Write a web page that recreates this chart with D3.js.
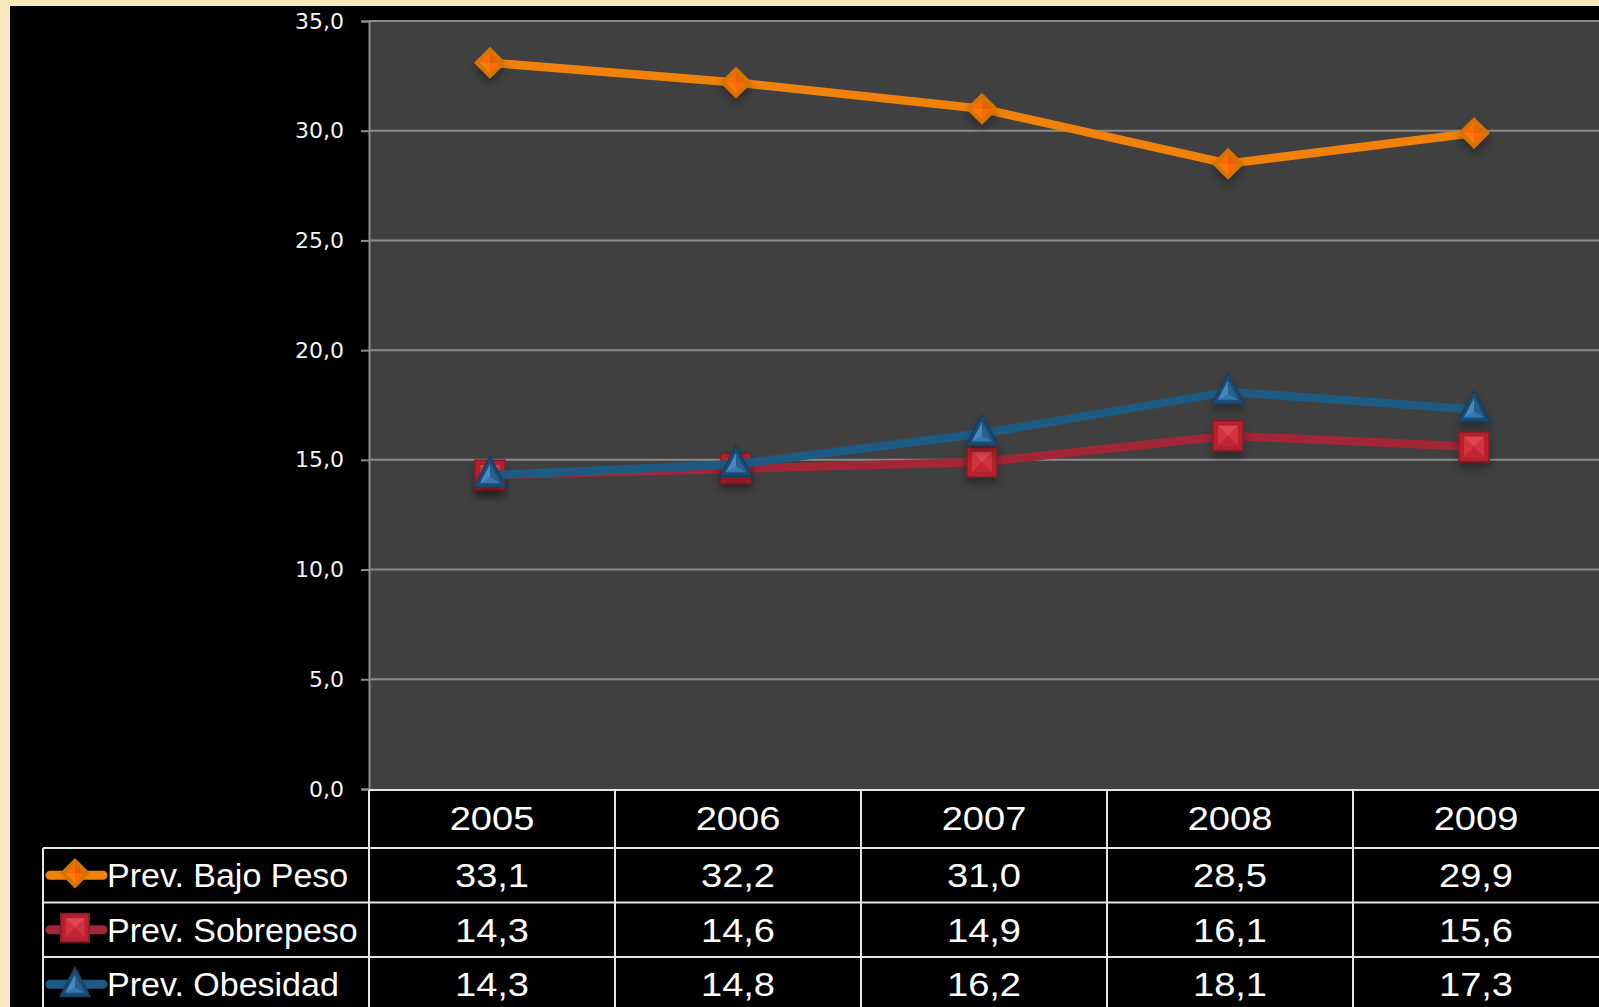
<!DOCTYPE html>
<html>
<head>
<meta charset="utf-8">
<script src="https://cdn.jsdelivr.net/npm/d3@7"></script>
<style>
  html, body { margin: 0; padding: 0; background: #f6e8bb; overflow: hidden; }
</style>
</head>
<body>
<div id="chart"></div>
<script>
// Data
const years = ['2005', '2006', '2007', '2008', '2009'];
const bajoPeso = [33.1, 32.2, 31.0, 28.5, 29.9];
const sobrepeso = [14.3, 14.6, 14.9, 16.1, 15.6];
const obesidad = [14.3, 14.8, 16.2, 18.1, 17.3];
const seriesNames = ['Prev. Bajo Peso', 'Prev. Sobrepeso', 'Prev. Obesidad'];
const yTicks = [0, 5, 10, 15, 20, 25, 30, 35];

const WIDTH = 1599;
const HEIGHT = 1007;

const series = [
    { name: seriesNames[0], values: bajoPeso, line: '#f08109', shape: 'diamond' },
    { name: seriesNames[1], values: sobrepeso, line: '#a22636', shape: 'square' },
    { name: seriesNames[2], values: obesidad, line: '#1d5b82', shape: 'triangle' }
];

const fmt = d3.formatLocale({ decimal: ',', thousands: '.', grouping: [3], currency: ['', ''] }).format('.1f');

const svg = d3.select('#chart')
    .append('svg')
    .attr('width', WIDTH)
    .attr('height', HEIGHT);

const defs = svg.append('defs');
const shadow = defs.append('filter').attr('id', 'shadow')
    .attr('x', '-50%').attr('y', '-50%').attr('width', '200%').attr('height', '200%');
shadow.append('feDropShadow')
    .attr('dx', 0).attr('dy', 6).attr('stdDeviation', 4)
    .attr('flood-color', '#000').attr('flood-opacity', 0.35);

// background panel
svg.append('rect')
    .attr('width', WIDTH).attr('height', HEIGHT)
    .attr('fill', '#f6e8bb');
svg.append('rect')
    .attr('x', 10).attr('y', 6)
    .attr('width', WIDTH - 10).attr('height', HEIGHT - 6)
    .attr('fill', '#000');

// Scales
const xScale = d3.scaleBand()
    .domain(years)
    .range([369, 1599])
    .padding(0);

const yScale = d3.scaleLinear()
    .domain([0, 35])
    .range([789, 21]);

// plot area
svg.append('rect')
    .attr('x', 369).attr('y', yScale(35))
    .attr('width', 1599 - 369).attr('height', yScale(0) - yScale(35))
    .attr('fill', '#404040');

// gridlines
svg.append('g')
    .selectAll('line')
    .data(yTicks.filter(d => d > 0))
    .enter()
    .append('line')
    .attr('x1', 369).attr('x2', 1599)
    .attr('y1', d => yScale(d)).attr('y2', d => yScale(d))
    .attr('stroke', '#8c8c8c')
    .attr('stroke-width', 2);

// y axis
const yAxis = d3.axisLeft(yScale)
    .tickValues(yTicks)
    .tickFormat(fmt)
    .tickSize(8)
    .tickPadding(17);

const yg = svg.append('g')
    .attr('transform', 'translate(369,0)')
    .call(yAxis);
yg.select('.domain').attr('stroke', '#8c8c8c').attr('stroke-width', 2);
yg.selectAll('.tick line').attr('stroke', '#8c8c8c').attr('stroke-width', 2);
yg.selectAll('.tick text')
    .attr('fill', '#f4f4f4')
    .style('font-family', '"DejaVu Sans", Verdana, sans-serif')
    .style('font-size', '22px');

// Markers
function drawMarker(g, shape) {
    if (shape === 'diamond') {
        g.append('path').attr('d', 'M0,-16L16,0L0,16L-16,0Z').attr('fill', '#d87300');
        g.append('path').attr('d', 'M0,-10L10,0L0,10L-10,0Z').attr('fill', '#ff6a00');
        g.append('path').attr('d', 'M0,-10L10,0L0,0Z').attr('fill', '#e26200');
        g.append('path').attr('d', 'M-10,0L0,10L0,0Z').attr('fill', '#ff7a10');
    } else if (shape === 'square') {
        g.append('rect').attr('x', -15).attr('y', -15).attr('width', 30).attr('height', 30)
            .attr('fill', '#b3232f').attr('stroke', '#8a1824').attr('stroke-width', 1.5);
        g.append('rect').attr('x', -10).attr('y', -10).attr('width', 20).attr('height', 20)
            .attr('fill', '#d5303e');
        g.append('path').attr('d', 'M-10,-10L10,-10L0,0Z').attr('fill', '#e04552');
        g.append('path').attr('d', 'M-10,10L10,10L0,0Z').attr('fill', '#c22634');
    } else {
        g.append('path').attr('d', 'M0,-17L16,14L-16,14Z').attr('fill', '#1a4b73')
            .attr('stroke', '#163f61').attr('stroke-width', 1.5);
        g.append('path').attr('d', 'M0,-9L10,10L-10,10Z').attr('fill', '#3576ad');
        g.append('path').attr('d', 'M0,-9L0,4L-10,10Z').attr('fill', '#4a88be');
        g.append('path').attr('d', 'M0,-9L10,10L0,4Z').attr('fill', '#275f8e');
    }
}

const cx = d => xScale(d) + xScale.bandwidth() / 2 - 2;
const markerOffset = { diamond: 0, square: 0, triangle: -2 };

const line = d3.line()
    .x((d, i) => cx(years[i]))
    .y(d => yScale(d));

series.forEach(s => {
    const g = svg.append('g');
    g.append('path')
        .datum(s.values)
        .attr('d', line)
        .attr('fill', 'none')
        .attr('stroke', s.line)
        .attr('stroke-width', 8.5)
        .attr('stroke-linejoin', 'round');

    g.selectAll('g.marker')
        .data(s.values)
        .enter()
        .append('g')
        .attr('class', 'marker')
        .attr('filter', 'url(#shadow)')
        .attr('transform', (d, i) => `translate(${cx(years[i])},${yScale(d) + markerOffset[s.shape]})`)
        .each(function() { drawMarker(d3.select(this), s.shape); });
});

// Data table
const tableTop = 790;
const headerH = 58;
const rowH = 54.5;
const legendLeft = 43;
const table = svg.append('g');

const gridColor = '#e6e6e6';

// horizontal lines
table.append('line')
    .attr('x1', 369).attr('x2', 1599)
    .attr('y1', tableTop).attr('y2', tableTop)
    .attr('stroke', gridColor).attr('stroke-width', 2);
d3.range(series.length + 1).forEach(i => {
    const y = tableTop + headerH + i * rowH;
    table.append('line')
        .attr('x1', legendLeft).attr('x2', 1599)
        .attr('y1', y).attr('y2', y)
        .attr('stroke', gridColor).attr('stroke-width', 2);
});

// vertical lines
table.append('line')
    .attr('x1', legendLeft).attr('x2', legendLeft)
    .attr('y1', tableTop + headerH).attr('y2', HEIGHT)
    .attr('stroke', gridColor).attr('stroke-width', 2);
table.selectAll('line.col')
    .data(years)
    .enter()
    .append('line')
    .attr('class', 'col')
    .attr('x1', d => xScale(d)).attr('x2', d => xScale(d))
    .attr('y1', tableTop).attr('y2', HEIGHT)
    .attr('stroke', gridColor).attr('stroke-width', 2);

const textStyle = sel => sel
    .attr('fill', '#fff')
    .style('font-family', '"Liberation Sans", Arial, sans-serif')
    .style('font-size', '34px')
    .attr('dominant-baseline', 'central');

// numbers in the table are drawn a bit wider than the legend text
const NUM_STRETCH = 1.12;
const numStyle = sel => sel
    .call(textStyle)
    .attr('text-anchor', 'middle');

// header years
table.selectAll('text.year')
    .data(years)
    .enter()
    .append('text')
    .attr('class', 'year')
    .attr('transform', d => `translate(${xScale(d) + xScale.bandwidth() / 2},${tableTop + headerH / 2 - 1}) scale(${NUM_STRETCH},1)`)
    .text(d => d)
    .call(numStyle);

// rows
series.forEach((s, r) => {
    const yc = tableTop + headerH + r * rowH + rowH / 2;

    table.selectAll(null)
        .data(s.values)
        .enter()
        .append('text')
        .attr('transform', (d, i) => `translate(${xScale(years[i]) + xScale.bandwidth() / 2},${yc}) scale(${NUM_STRETCH},1)`)
        .text(d => fmt(d))
        .call(numStyle);

    // legend key
    table.append('line')
        .attr('x1', 50).attr('x2', 103)
        .attr('y1', yc).attr('y2', yc)
        .attr('stroke', s.line)
        .attr('stroke-width', 9)
        .attr('stroke-linecap', 'round');
    const m = table.append('g')
        .attr('transform', `translate(75,${yc - 2 + (s.shape === 'triangle' ? 1 : 0)}) scale(0.95)`);
    drawMarker(m, s.shape);

    table.append('text')
        .attr('x', 107)
        .attr('y', yc)
        .text(s.name)
        .call(textStyle);
});
</script>
</body>
</html>
